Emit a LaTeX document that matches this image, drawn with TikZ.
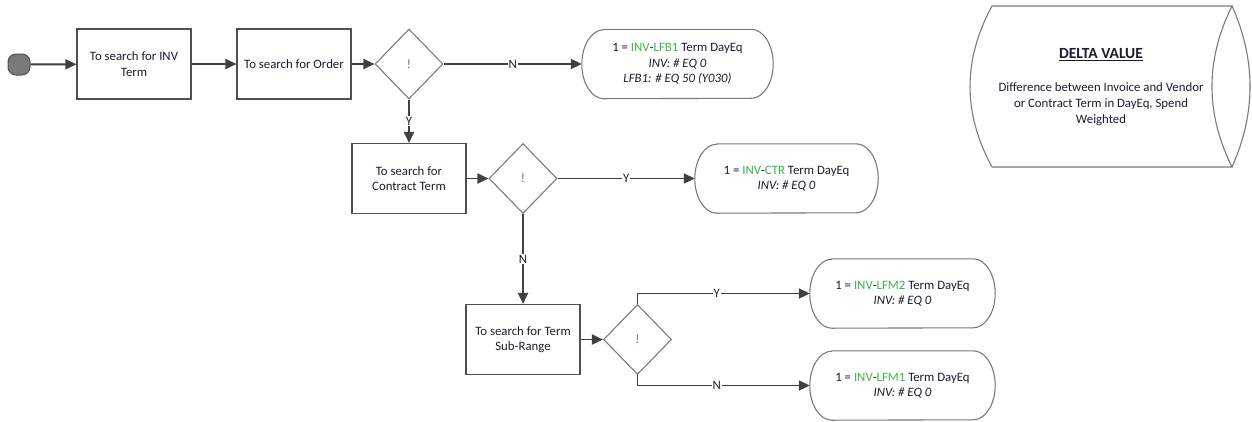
\documentclass[tikz,border=0pt]{standalone}
\usepackage{fontspec}
\setmainfont{Carlito}
\usetikzlibrary{shapes.geometric,shapes.misc,arrows.meta}
\definecolor{txt}{HTML}{1C1C30}
\definecolor{grn}{HTML}{3CB44B}
\definecolor{excl}{HTML}{4A6FA5}
\definecolor{conn}{HTML}{404040}
\definecolor{bord}{HTML}{505050}
\definecolor{dbord}{HTML}{7A7A7A}
\tikzset{
  every node/.style={font=\fontsize{12.8}{15.5}\selectfont, text=txt},
  procbox/.style={rectangle, draw=bord, line width=1.1pt, minimum width=114pt, minimum height=70pt, align=center, inner sep=2pt},
  decbox/.style={diamond, draw=dbord, line width=1.1pt, minimum width=68pt, minimum height=70pt, inner sep=0pt, text=excl},
  termbox/.style={rectangle, minimum height=69pt, align=center, inner sep=2pt},
  termline/.style={draw=dbord, line width=1.1pt},
  startbox/.style={rectangle, rounded corners=8pt, draw=bord, fill=dbord, line width=1pt, minimum width=22pt, minimum height=21pt, inner sep=0pt},
  flow/.style={draw=conn, line width=1.9pt, -{Triangle[length=11pt,width=10pt]}},
  lbl/.style={fill=white, inner sep=1pt, text=txt}
}
\begin{document}
\begin{tikzpicture}[x=1pt,y=-1pt]
\useasboundingbox (0,0) rectangle (1252,421);
\node[startbox] (start) at (19,64.5) {};
\node[procbox] (b1) at (134,64) {To search for INV\\Term};
\node[procbox] (b2) at (294,64) {To search for Order};
\node[decbox] (d1) at (409,64) {!};
\node[termbox, minimum width=191pt] (t1) at (677.5,64) {1 = \textcolor{grn}{INV}-\textcolor{grn}{LFB1} Term DayEq\\\textit{INV: \# EQ 0}\\\textit{LFB1: \# EQ 50 (Y030)}};
\node[procbox] (b3) at (409,178.5) {To search for\\Contract Term};
\node[decbox] (d2) at (523,178.5) {!};
\node[termbox, minimum width=183pt] (t2) at (786.5,178.5) {1 = \textcolor{grn}{INV}-\textcolor{grn}{CTR} Term DayEq\\\textit{INV: \# EQ 0}};
\node[procbox] (b4) at (523,339.5) {To search for Term\\Sub-Range};
\node[decbox] (d3) at (637.5,339.5) {!};
\node[termbox, minimum width=185pt] (t3) at (902.5,293.5) {1 = \textcolor{grn}{INV}-\textcolor{grn}{LFM2} Term DayEq\\\textit{INV: \# EQ 0}};
\node[termbox, minimum width=185pt] (t4) at (902.5,385.5) {1 = \textcolor{grn}{INV}-\textcolor{grn}{LFM1} Term DayEq\\\textit{INV: \# EQ 0}};
% terminal outlines with elliptical ends
\foreach \n in {t1,t2,t3,t4}{
  \draw[termline] ([xshift=22pt]\n.north west) -- ([xshift=-22pt]\n.north east)
    arc[start angle=90, end angle=-90, x radius=22pt, y radius=34.5pt]
    -- ([xshift=22pt]\n.south west)
    arc[start angle=270, end angle=90, x radius=22pt, y radius=34.5pt] -- cycle;
}
% connectors
\draw[flow] (start) -- (b1);
\draw[flow] (b1) -- (b2);
\draw[flow] (b2) -- (d1);
\draw[flow] (d1.east) -- node[lbl]{N} (t1.west);
\draw[flow] (d1.south) -- node[lbl]{Y} (b3.north);
\draw[flow] (b3) -- (d2);
\draw[flow] (d2.east) -- node[lbl]{Y} (t2.west);
\draw[flow] (d2.south) -- node[lbl]{N} (b4.north);
\draw[flow] (b4) -- (d3);
\draw[flow] (d3.north) -- (d3.north |- t3.west) -- node[lbl,pos=0.46]{Y} (t3.west);
\draw[flow] (d3.south) -- (d3.south |- t4.west) -- node[lbl,pos=0.46]{N} (t4.west);
% delta value shape
\draw[draw=dbord, line width=1.1pt] (992,6) -- (1232,6)
  .. controls (1205.3,59.7) and (1205.3,113.3) .. (1232,167)
  -- (992,167)
  .. controls (962.7,113.3) and (962.7,59.7) .. (992,6) -- cycle;
\draw[draw=dbord, line width=1.1pt] (1232,6) .. controls (1256,59.7) and (1256,113.3) .. (1232,167);
\node[font=\fontsize{15.5}{18}\selectfont\bfseries] (dtitle) at (1101,55) {\underline{DELTA VALUE}};
\node[align=center, font=\fontsize{12.8}{16}\selectfont] (dtext) at (1101,104) {Difference between Invoice and Vendor\\or Contract Term in DayEq, Spend\\Weighted};
\end{tikzpicture}
\end{document}
